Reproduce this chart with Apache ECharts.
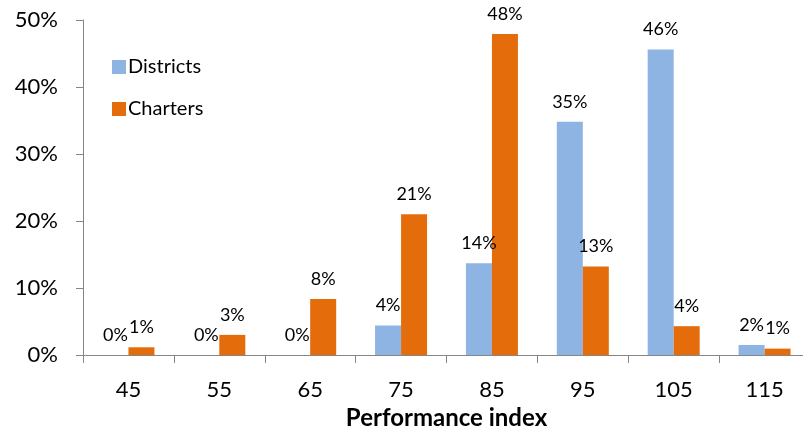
<!DOCTYPE html>
<html>
<head>
<meta charset="utf-8">
<script src="https://cdn.jsdelivr.net/npm/echarts@6/dist/echarts.min.js"></script>
<style>
  html, body { margin: 0; padding: 0; background: #fff; }
  #chart { width: 803px; height: 427px; }
</style>
</head>
<body>
<div id="chart"></div>
<script>
// Share of schools by performance index band
const categories = ['45', '55', '65', '75', '85', '95', '105', '115'];
const districts = [0, 0, 0, 4.4, 13.7, 34.8, 45.6, 1.5];
const charters = [1.15, 3.0, 8.35, 21.0, 47.9, 13.2, 4.3, 0.95];
const yTicks = { min: 0, max: 50, interval: 10 };

const FONT = 'Lato, "Open Sans", sans-serif';
const axisGray = '#868686';

const labelStyle = {
  show: true,
  position: 'top',
  distance: 11,
  color: '#000',
  fontFamily: FONT,
  fontSize: 18,
  formatter: p => Math.round(p.value) + '%'
};

const chart = echarts.init(document.getElementById('chart'), null, { renderer: 'canvas' });
chart.setOption({
  animation: false,
  backgroundColor: '#fff',
  textStyle: { fontFamily: FONT },
  grid: { left: 83, top: 20, right: -7, bottom: 72, containLabel: false, outerBoundsMode: 'none' },
  legend: {
    orient: 'vertical',
    left: 112,
    top: 57,
    padding: 0,
    itemWidth: 14,
    itemHeight: 14,
    itemGap: 22,
    icon: 'rect',
    textStyle: { fontFamily: FONT, fontSize: 20, color: '#000', padding: [0, 0, 0, -3] },
    data: ['Districts', 'Charters']
  },
  xAxis: {
    type: 'category',
    data: categories,
    name: 'Performance index',
    nameLocation: 'middle',
    nameGap: 37,
    nameTextStyle: { fontFamily: FONT, fontSize: 24, fontWeight: 'bold', color: '#000' },
    axisLine: { lineStyle: { color: axisGray, width: 1 } },
    axisTick: { show: true, length: 8, alignWithLabel: false, lineStyle: { color: axisGray } },
    axisLabel: { color: '#000', fontFamily: FONT, fontSize: 22, margin: 24 },
    splitLine: { show: false }
  },
  yAxis: {
    type: 'value',
    min: yTicks.min,
    max: yTicks.max,
    interval: yTicks.interval,
    axisLine: { show: true, lineStyle: { color: axisGray, width: 1 } },
    axisTick: { show: true, length: 7, lineStyle: { color: axisGray } },
    axisLabel: { color: '#000', fontFamily: FONT, fontSize: 22, margin: 25, formatter: '{value}%' },
    splitLine: { show: false }
  },
  series: [
    {
      name: 'Districts',
      type: 'bar',
      data: districts,
      barWidth: 26,
      barGap: '0%',
      itemStyle: { color: '#8DB4E2' },
      label: labelStyle
    },
    {
      name: 'Charters',
      type: 'bar',
      data: charters,
      barWidth: 26,
      barGap: '0%',
      itemStyle: { color: '#E46C0A' },
      label: labelStyle
    }
  ]
});
</script>
</body>
</html>
